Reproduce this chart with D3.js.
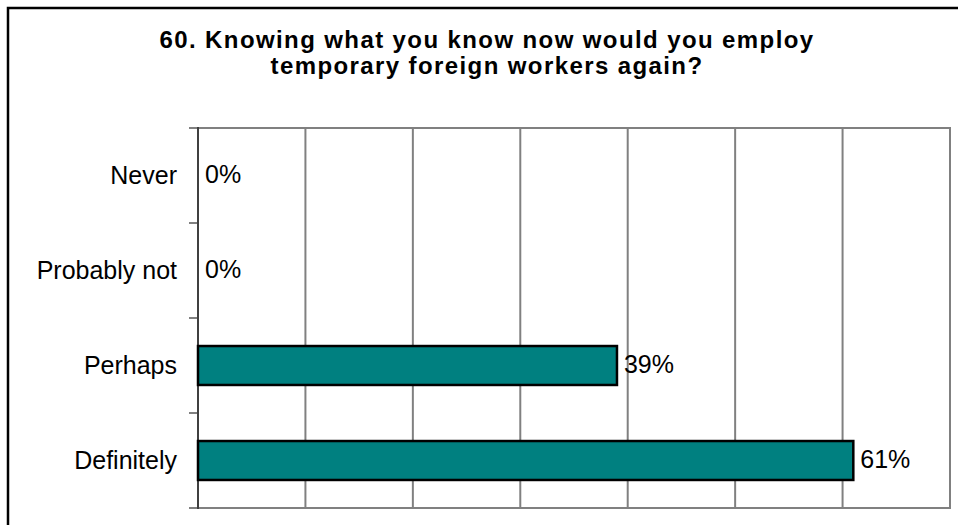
<!DOCTYPE html>
<html>
<head>
<meta charset="utf-8">
<script src="https://cdn.jsdelivr.net/npm/d3@7"></script>
<style>
  html, body { margin: 0; padding: 0; background: #fff; }
  svg { display: block; font-family: "Liberation Sans", Arial, sans-serif; }
</style>
</head>
<body>
<svg id="chart" width="958" height="525"></svg>
<script>
// Survey question 60 – share of respondents per answer
const titleLines = [
  "60. Knowing what you know now would you employ",
  "temporary foreign workers again?"
];
const categories = ["Never", "Probably not", "Perhaps", "Definitely"];
const values = [0, 0, 39, 61];
const xTicks = [0, 10, 20, 30, 40, 50, 60, 70];

const svg = d3.select("#chart");

// outer frame
svg.append("rect")
  .attr("x", 8).attr("y", 8)
  .attr("width", 980).attr("height", 540)
  .attr("fill", "#fff")
  .attr("stroke", "#000")
  .attr("stroke-width", 2.5);

// title
svg.append("g").selectAll("text")
  .data(titleLines)
  .join("text")
  .attr("x", 487)
  .attr("y", (d, i) => 48 + i * 26)
  .attr("text-anchor", "middle")
  .attr("font-weight", "bold")
  .attr("font-size", 24)
  .attr("letter-spacing", 1.4)
  .attr("fill", "#000")
  .text(d => d);

const plot = { left: 198, right: 950, top: 128, bottom: 508 };

const x = d3.scaleLinear()
  .domain([0, 70])
  .range([plot.left, plot.right]);

const y = d3.scaleBand()
  .domain(categories)
  .range([plot.top, plot.bottom])
  .paddingInner(0.59)
  .paddingOuter(0.295);

// vertical gridlines (including the right border)
svg.append("g").selectAll("line")
  .data(xTicks.slice(1))
  .join("line")
  .attr("x1", d => x(d)).attr("x2", d => x(d))
  .attr("y1", plot.top).attr("y2", plot.bottom)
  .attr("stroke", "#808080")
  .attr("stroke-width", 2);

// top and bottom plot border
svg.append("g").selectAll("line")
  .data([plot.top, plot.bottom])
  .join("line")
  .attr("x1", plot.left - 9).attr("x2", plot.right + 1)
  .attr("y1", d => d).attr("y2", d => d)
  .attr("stroke", "#808080")
  .attr("stroke-width", 2);

// category boundary ticks on the left axis
const step = y.step();
const boundaries = d3.range(categories.length + 1).map(i => plot.top + i * step);
svg.append("g").selectAll("line")
  .data(boundaries)
  .join("line")
  .attr("x1", plot.left - 9).attr("x2", plot.left)
  .attr("y1", d => d).attr("y2", d => d)
  .attr("stroke", "#808080")
  .attr("stroke-width", 2);

// left axis line
svg.append("line")
  .attr("x1", plot.left).attr("x2", plot.left)
  .attr("y1", plot.top - 1).attr("y2", plot.bottom + 1)
  .attr("stroke", "#404040")
  .attr("stroke-width", 2);

// bars
svg.append("g").selectAll("rect")
  .data(categories.map((c, i) => ({ c, v: values[i] })).filter(d => d.v > 0))
  .join("rect")
  .attr("x", x(0))
  .attr("y", d => y(d.c))
  .attr("width", d => x(d.v) - x(0))
  .attr("height", y.bandwidth())
  .attr("fill", "#008080")
  .attr("stroke", "#000")
  .attr("stroke-width", 2.5);

// category labels
svg.append("g").selectAll("text")
  .data(categories)
  .join("text")
  .attr("x", plot.left - 21)
  .attr("y", d => y(d) + y.bandwidth() / 2 + 8)
  .attr("text-anchor", "end")
  .attr("font-size", 25)
  .attr("fill", "#000")
  .text(d => d);

// value labels
svg.append("g").selectAll("text")
  .data(categories.map((c, i) => ({ c, v: values[i] })))
  .join("text")
  .attr("x", d => x(d.v) + 7)
  .attr("y", d => y(d.c) + y.bandwidth() / 2 + 7)
  .attr("font-size", 25)
  .attr("fill", "#000")
  .text(d => d.v + "%");
</script>
</body>
</html>
